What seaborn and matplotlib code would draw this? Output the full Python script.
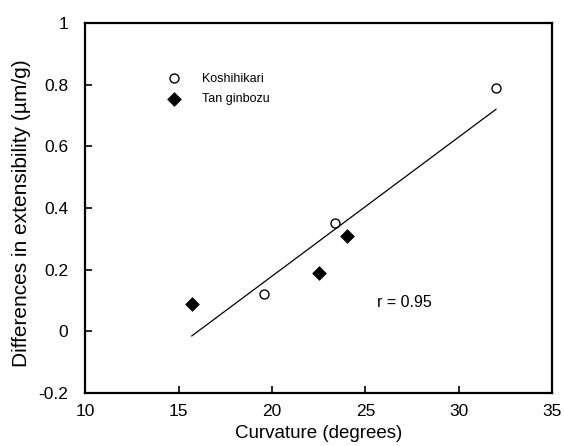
import matplotlib

matplotlib.use("Agg")
import matplotlib.pyplot as plt
import numpy as np
import pandas as pd
import seaborn as sns
from matplotlib.ticker import FormatStrFormatter

# values
KOSHI_X = [19.6, 23.4, 32.0]
KOSHI_Y = [0.12, 0.35, 0.79]
TAN_X = [15.7, 22.5, 24.0]
TAN_Y = [0.09, 0.19, 0.31]

X_TICKS = [10, 15, 20, 25, 30, 35]
Y_TICKS = [-0.2, 0, 0.2, 0.4, 0.6, 0.8, 1]

TICK_SIZE = 12.5
XLABEL_SIZE = 13.5
YLABEL_SIZE = 15
LEGEND_SIZE = 9

sns.set_style("ticks")
plt.rcParams["font.family"] = ["Liberation Sans", "DejaVu Sans"]
for key in ["text.color", "axes.labelcolor", "xtick.color", "ytick.color"]:
    plt.rcParams[key] = "black"

koshi = pd.DataFrame({"x": KOSHI_X, "y": KOSHI_Y})
tan = pd.DataFrame({"x": TAN_X, "y": TAN_Y})
both = pd.concat([koshi, tan], ignore_index=True)

fig = plt.figure(figsize=(5.64, 4.46), dpi=100)
ax = fig.add_axes([0.151, 0.119, 0.828, 0.829])

sns.regplot(
    data=both, x="x", y="y", ax=ax, scatter=False, ci=None,
    truncate=True, line_kws={"color": "black", "linewidth": 0.9},
)
sns.scatterplot(
    data=koshi, x="x", y="y", ax=ax, marker="o", s=42,
    facecolor="white", edgecolor="black", linewidth=1.0, label="Koshihikari",
)
sns.scatterplot(
    data=tan, x="x", y="y", ax=ax, marker="D", s=48,
    color="black", edgecolor="black", label="Tan ginbozu",
)

r = np.corrcoef(both["x"], both["y"])[0, 1]
ax.text(25.6, 0.095, f"r = {r:.2f}", fontsize=11.5, va="center")

ax.set_xlim(10, 35)
ax.set_ylim(-0.2, 1)
ax.set_xticks(X_TICKS)
ax.set_yticks(Y_TICKS)
ax.yaxis.set_major_formatter(FormatStrFormatter("%g"))
ax.tick_params(direction="in", length=5, width=1.2, labelsize=TICK_SIZE)
ax.tick_params(axis="y", pad=12)
ax.tick_params(axis="x", pad=8)
for sp in ax.spines.values():
    sp.set_linewidth(1.6)
    sp.set_color("black")

ax.set_xlabel("Curvature (degrees)", fontsize=XLABEL_SIZE)
ax.set_ylabel("Differences in extensibility (\u00b5m/g)", fontsize=YLABEL_SIZE)
ax.xaxis.set_label_coords(0.5, -0.088)
ax.yaxis.set_label_coords(-0.116, 0.485)

ax.legend(
    loc="upper left", bbox_to_anchor=(0.153, 0.88), frameon=False,
    fontsize=LEGEND_SIZE, handletextpad=1.2, labelspacing=0.7, borderaxespad=0,
)

fig.savefig("out.png", dpi=100)
plt.close(fig)
